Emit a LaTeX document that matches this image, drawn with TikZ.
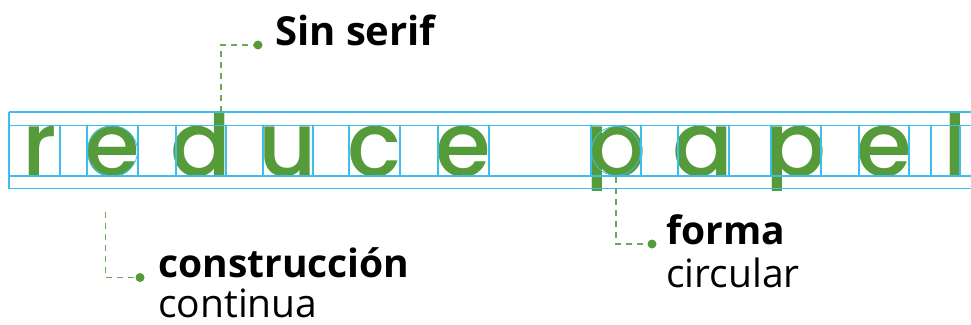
\documentclass[tikz,border=0pt]{standalone}
\usepackage{fontspec}
\setmainfont{Open Sans}
\IfFontExistsTF{Poppins Medium}
  {\newfontfamily\popfont{Poppins Medium}}
  {\newfontfamily\popfont{Poppins}}
\definecolor{grn}{HTML}{559B3A}
\definecolor{dashgrn}{HTML}{6AAA55}
\definecolor{gridc}{HTML}{3BBFEC}
\tikzset{
  letter/.style={anchor=base, inner sep=0pt, text=grn, font=\popfont\fontsize{90}{90}\selectfont},
  gridline/.style={draw=gridc, line width=1.3pt},
  outline/.style={draw=gridc, line width=0.8pt},
  dashline/.style={draw=dashgrn, line width=1.3pt, dash pattern=on 6pt off 5pt},
  dot/.style={circle, fill=grn, inner sep=0pt, minimum size=9pt},
  boldlabel/.style={anchor=base west, inner sep=0pt, font=\bfseries\fontsize{39}{39}\selectfont},
  normlabel/.style={anchor=base west, inner sep=0pt, font=\fontsize{39}{39}\selectfont},
}
\begin{document}
\begin{tikzpicture}[x=1pt,y=-1pt]
\useasboundingbox (0,0) rectangle (971,324);
% letters (clipped to the guide band)
\begin{scope}
\clip (0,112) rectangle (971,190);
\node[letter] (r)  at (40,176)   {r};
\node[letter] (e1) at (112.5,176) {e};
\node[letter] (d)  at (201,176)  {d};
\node[letter] (u)  at (288,176)  {u};
\node[letter] (c)  at (374.5,176) {c};
\node[letter] (e2) at (463.5,176) {e};
\node[letter] (p1) at (616,176)  {p};
\node[letter] (a)  at (703.5,176) {a};
\node[letter] (p2) at (796,176)  {p};
\node[letter] (e3) at (884.5,176) {e};
\node[letter] (l)  at (955,176)  {l};
\end{scope}
% guide grid
\foreach \yy in {112,125.5,176,188.5} \draw[gridline] (9,\yy) -- (971,\yy);
\draw[gridline] (9,112) -- (9,188.5);
\foreach \xx in {60,87,138,176,226,263,313,349,400,438,489,591,641,678,729,771,821,859,909,931,960}
  \draw[gridline] (\xx,125.5) -- (\xx,176);
% construction circles
\draw[outline] (112.5,151) circle (25);
\draw[outline] (616,151) circle (24.5);
% callouts
\coordinate (dtop) at (221,112);
\node[dot] (dot1) at (258,45) {};
\draw[dashline] (dtop) |- (dot1);
\node[boldlabel, font=\bfseries\fontsize{40}{40}\selectfont] (sin) at (275,45) {Sin serif};

\coordinate (ebot) at (105.5,212);
\node[dot] (dot2) at (140,277.5) {};
\draw[dashline] (ebot) |- (dot2);
\node[boldlabel] (cons) at (158,277) {construcción};
\node[normlabel] (cont) at (158,317) {continua};

\coordinate (pbot) at (616,177);
\node[dot] (dot3) at (652,244) {};
\draw[dashline] (pbot) |- (dot3);
\node[boldlabel] (forma) at (666,244) {forma};
\node[normlabel] (circ) at (666,287) {circular};
\end{tikzpicture}
\end{document}
